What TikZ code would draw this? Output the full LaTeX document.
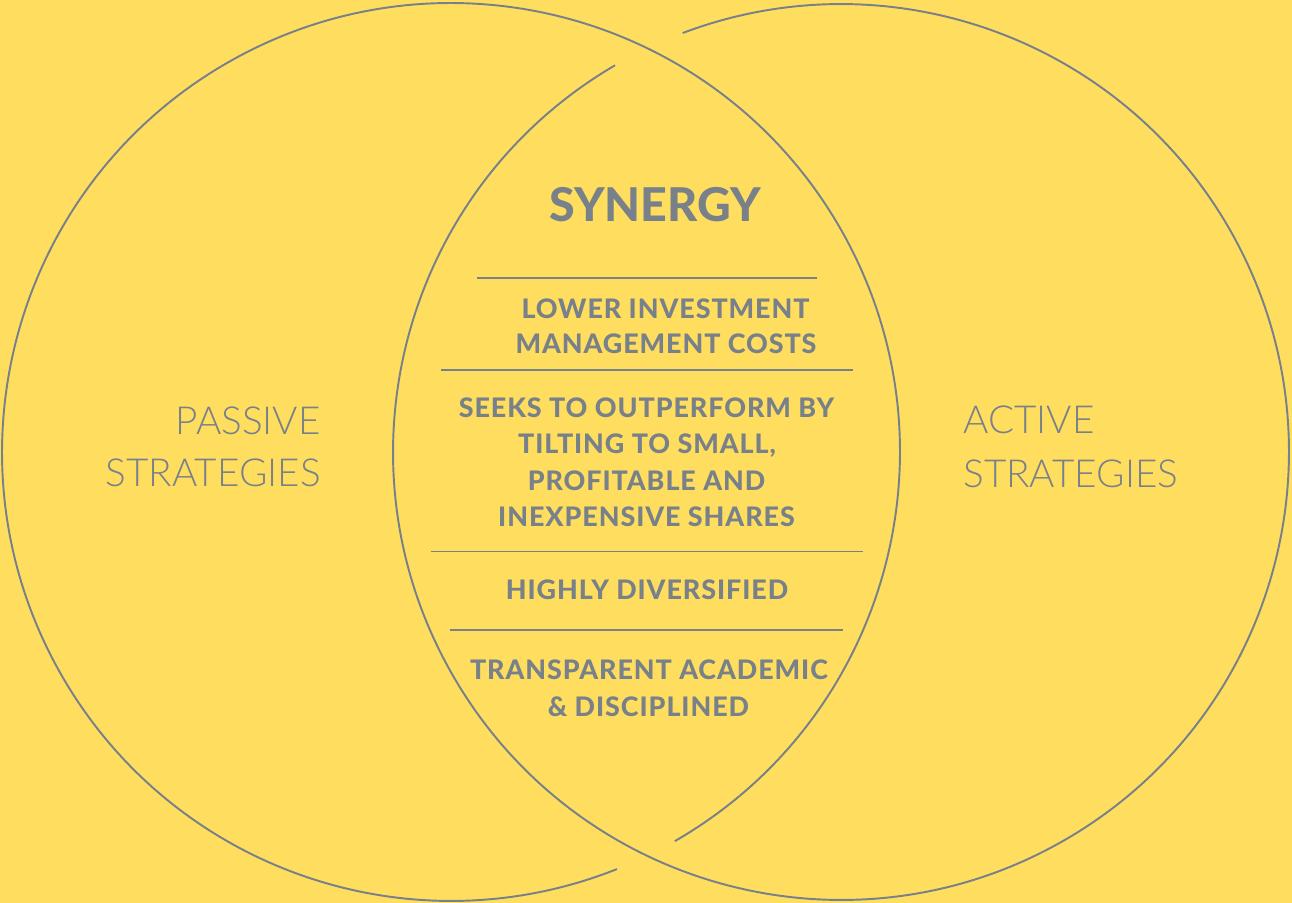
\documentclass[tikz,border=0pt]{standalone}
\usepackage{fontspec}
\setmainfont{Lato}
\newfontfamily\lightf{Lato Light}
\newfontfamily\heavyf{Lato Heavy}
\definecolor{bgyellow}{HTML}{FFDE5F}
\definecolor{ink}{HTML}{78808A}
\begin{document}
\begin{tikzpicture}[x=0.02cm,y=0.02cm,
  ring/.style={draw=ink,line width=1.1pt},
  rule/.style={draw=ink,line width=1.1pt},
  title/.style={inner sep=0pt,anchor=base,text=ink,font=\fontsize{26.5}{30}\selectfont\heavyf},
  item/.style={inner sep=0pt,anchor=base,text=ink,font=\fontsize{15.3}{18}\selectfont\heavyf\addfontfeatures{LetterSpace=3.5}},
  side/.style={inner sep=0pt,text=ink,font=\fontsize{22}{26}\selectfont\lightf}]
\fill[bgyellow] (0,0) rectangle (1292,903);
\useasboundingbox (0,0) rectangle (1292,903);
\coordinate (L) at (451,451);
\coordinate (R) at (841,451);
% left ring, broken at the lower crossing
\draw[ring] (L) ++(-60.1:8.98cm) arc[start angle=-60.1,end angle=291.7,radius=8.98cm];
% right ring, broken at the upper crossing
\draw[ring] (R) ++(120.3:8.96cm) arc[start angle=120.3,end angle=470.7,radius=8.96cm];
% separators
\coordinate (a1) at (477,625); \coordinate (b1) at (817,625);
\coordinate (a2) at (441,533); \coordinate (b2) at (853,533);
\coordinate (a3) at (431,351.5); \coordinate (b3) at (863,351.5);
\coordinate (a4) at (450,273); \coordinate (b4) at (843,273);
\draw[rule] (a1) -- (b1);
\draw[rule] (a2) -- (b2);
\draw[rule] (a3) -- (b3);
\draw[rule] (a4) -- (b4);
% texts
\node[title] (syn) at (655,681) {SYNERGY};
\node[item] (l1a) at (665.5,584) {LOWER INVESTMENT};
\node[item] (l1b) at (666,549) {MANAGEMENT COSTS};
\node[item] (l2a) at (646.5,485.3) {SEEKS TO OUTPERFORM BY};
\node[item] (l2b) at (647,449) {TILTING TO SMALL,};
\node[item] (l2c) at (646.5,412) {PROFITABLE AND};
\node[item] (l2d) at (646.5,376.3) {INEXPENSIVE SHARES};
\node[item] (l3) at (647,303) {HIGHLY DIVERSIFIED};
\node[item] (l4a) at (649,223) {TRANSPARENT ACADEMIC};
\node[item] (l4b) at (648.5,186) {\& DISCIPLINED};
\node[side,anchor=base east] (pa) at (321,468) {PASSIVE};
\node[side,anchor=base east] (pb) at (321,416) {STRATEGIES};
\node[side,anchor=base west] (aa) at (963,469) {ACTIVE};
\node[side,anchor=base west] (ab) at (963,415) {STRATEGIES};
\end{tikzpicture}
\end{document}
